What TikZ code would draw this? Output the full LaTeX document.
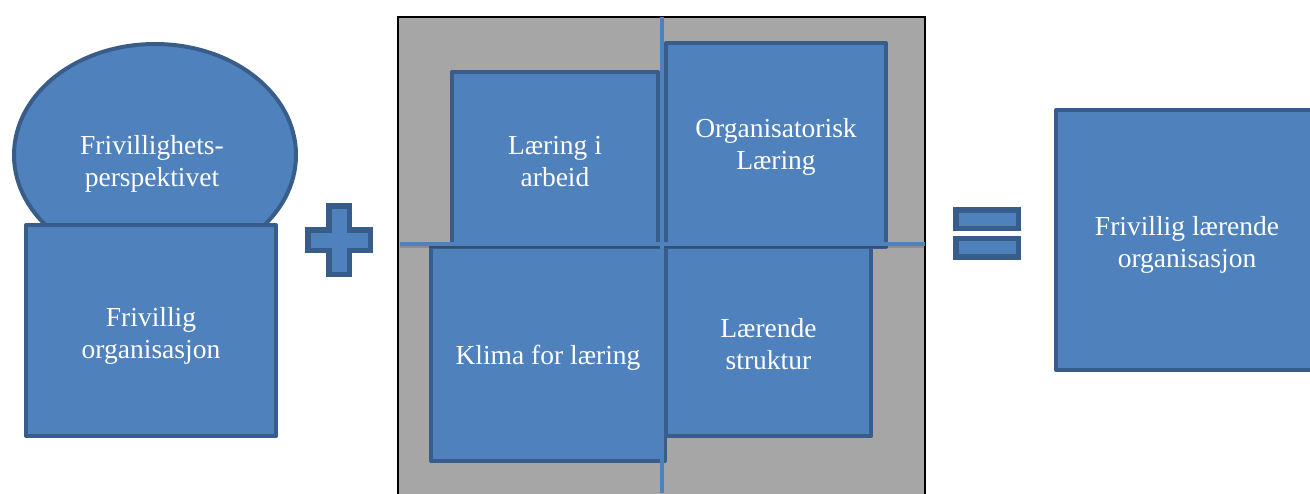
\documentclass[tikz,border=0pt]{standalone}
\usepackage{fontspec}
\setmainfont{Liberation Serif}
\usetikzlibrary{shapes.geometric}
\definecolor{bfill}{HTML}{4F81BD}
\definecolor{bline}{HTML}{385D8A}
\definecolor{panelgrey}{HTML}{A6A6A6}
\begin{document}
\begin{tikzpicture}[x=1pt,y=-1pt,
  shp/.style={fill=bfill,draw=bline,line width=4pt,line join=round},
  bx/.style={shp,rectangle,inner sep=0pt},
  txt/.style={text=white,align=center,inner sep=0pt,
    font=\fontsize{27.5}{32}\selectfont},
  sym/.style={fill=bfill,draw=bline,line width=5.5pt,line join=miter},
  divider/.style={draw=bfill,line width=4.5pt},
  dshadow/.style={draw=black,opacity=0.15,line width=2pt}]
\useasboundingbox (0,0) rectangle (1310,493);
% left part
\node[shp,ellipse,inner sep=0pt,minimum width=282pt,minimum height=222pt] (pers) at (155,155) {};
\node[txt] (perst) at (152,164) {Frivillighets-\\perspektivet};
\node[bx,minimum width=250pt,minimum height=211pt] (org) at (151,330.5) {};
\node[txt] (orgt) at ([yshift=-5pt]org.center) {Frivillig\\organisasjon};
% plus sign
\draw[sym] (307.75,229.75) -- (328.75,229.75) -- (328.75,205.75) -- (349.25,205.75) -- (349.25,229.75)
  -- (370.25,229.75) -- (370.25,250.25) -- (349.25,250.25) -- (349.25,274.25) -- (328.75,274.25)
  -- (328.75,250.25) -- (307.75,250.25) -- cycle;
% centre panel
\fill[panelgrey] (398,17) rectangle (925,500);
\draw[black,line width=1.5pt] (398,500) -- (398,17) -- (925,17) -- (925,500);
\node[bx,minimum width=206pt,minimum height=175pt] (lia) at (555,159.5) {};
\node[txt] (liat) at ([yshift=-2pt]lia.center) {Læring i\\arbeid};
\node[bx,minimum width=220pt,minimum height=204pt] (orgl) at (776,145) {};
\node[txt] (orglt) at ([yshift=-2pt]orgl.center) {Organisatorisk\\Læring};
\node[bx,minimum width=205pt,minimum height=189pt] (lstr) at (768.5,341.5) {};
\node[txt] (lstrt) at ([yshift=-3pt]lstr.center) {Lærende\\struktur};
\node[bx,minimum width=234pt,minimum height=214pt] (klima) at (548,354) {};
\node[txt] (klimat) at ([yshift=-4pt]klima.center) {Klima for læring};
\coordinate (vt) at (662,17);
\coordinate (vb) at (662,493);
\coordinate (hl) at (400,244);
\coordinate (hr) at (925,244);
\draw[dshadow] ([yshift=-3pt]hl) -- ([yshift=-3pt]hr);
\draw[divider] (hl) -- (hr);
\draw[divider] (vt) -- (vb);
% equals sign
\draw[sym] (955.75,209.75) rectangle (1018.25,228.25);
\draw[sym] (955.75,238.25) rectangle (1018.25,256.75);
% result
\node[bx,minimum width=262pt,minimum height=260pt] (res) at (1187,240) {};
\node[txt] (rest) at (1187,244.5) {Frivillig lærende\\organisasjon};
\end{tikzpicture}
\end{document}
